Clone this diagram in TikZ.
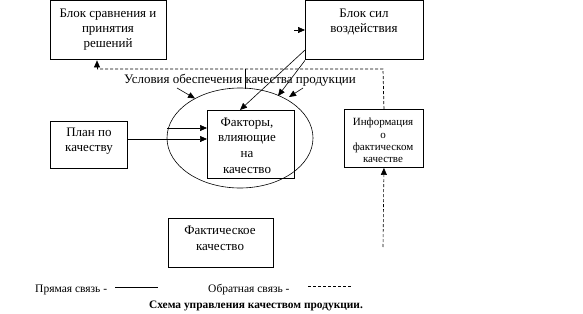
\documentclass[tikz,border=0pt]{standalone}
\usepackage{fontspec}
\setmainfont{Liberation Serif}
\usetikzlibrary{arrows.meta,shapes.geometric}
\begin{document}
\begin{tikzpicture}[x=1pt,y=-1pt,
  box/.style={draw, line width=0.9pt, inner sep=0pt, anchor=north west},
  txt/.style={align=center, inner sep=0pt, font=\rmfamily\fontsize{13}{15}\selectfont},
  small/.style={align=center, inner sep=0pt, font=\rmfamily\fontsize{11}{12.3}\selectfont},
  leg/.style={inner sep=0pt, font=\rmfamily\fontsize{11.5}{13}\selectfont},
  arr/.style={line width=0.6pt, -{Triangle[length=7pt,width=6pt]}},
  fb/.style={line width=0.7pt, dash pattern=on 3pt off 2pt}]
\useasboundingbox (0,0) rectangle (583,313);
% boxes
\node[box, minimum width=116pt, minimum height=59pt] (cmp) at (50,0.5) {};
\node[box, minimum width=118pt, minimum height=59pt] (sil) at (305,0.5) {};
\node[box, minimum width=77pt, minimum height=47pt] (plan) at (50,121) {};
\node[box, minimum width=87pt, minimum height=68pt] (fac) at (207,110) {};
\node[box, minimum width=79pt, minimum height=58pt] (info) at (344,109) {};
\node[box, minimum width=105pt, minimum height=49pt] (fact) at (168,218) {};
\node[draw, line width=0.6pt, ellipse, minimum width=146pt, minimum height=100pt, inner sep=0pt] (ell) at (240,138) {};
% texts
\node[txt, anchor=north] (cmpT) at (108,8.5) {Блок сравнения и\\принятия\\решений};
\node[txt, anchor=north] (silT) at (364,8.5) {Блок сил\\воздействия};
\node[txt, anchor=north] (planT) at (89,127.5) {План по\\качеству};
\node[txt, anchor=north, font=\rmfamily\fontsize{13}{15.6}\selectfont] (facT) at (247,117.5) {Факторы,\\влияющие\\на\\качество};
\node[small, anchor=north] (infoT) at (383,118) {Информация\\о\\фактическом\\качестве};
\node[txt, anchor=north, font=\rmfamily\fontsize{13}{16.7}\selectfont] (factT) at (220,225.5) {Фактическое\\качество};
\node[txt] (cond) at (240,80) {Условия обеспечения качества продукции};
% feedback (dashed)
\coordinate (fbL) at (97,69);
\coordinate (fbR) at (383,69);
\coordinate (fbS) at (383,247);
\draw[fb] (info.north) -- (fbR) -- (fbL);
\draw[fb, arr] (fbL) -- (fbL |- cmp.south);
\draw[fb, arr] (fbS) -- (info.south);
% vertical solid line
\coordinate (vt) at (245,69);
\coordinate (vb) at (245,88.5);
\draw[line width=0.6pt] (vt) -- (vb);
% arrows from plan
\coordinate (p1) at (167,128);
\coordinate (p1e) at (207,128);
\draw[arr] (p1) -- (p1e);
\draw[arr] (plan.east |- 0,139) -- (fac.west |- 0,139);
% arrows into ellipse / factors
\coordinate (a1s) at (177,88);
\coordinate (a1e) at (195,98.5);
\draw[arr] (a1s) -- (a1e);
\coordinate (s1) at (305,50);
\coordinate (f1) at (240,110);
\draw[arr] (s1) -- (f1);
\coordinate (e2) at (278,96);
\draw[arr] (sil.south west) -- (e2);
\coordinate (a3s) at (303,88);
\coordinate (a3e) at (289,97);
\draw[arr] (a3s) -- (a3e);
% stray arrow head at block of forces
\coordinate (st) at (294,30);
\draw[arr] (st) -- (st -| sil.west);
% legend
\node[leg, anchor=west] (lg1) at (35,290) {Прямая связь -};
\coordinate (l1a) at (115,287);
\coordinate (l1b) at (158,287);
\draw[line width=0.7pt] (l1a) -- (l1b);
\node[leg, anchor=west] (lg2) at (208,290) {Обратная связь -};
\coordinate (l2a) at (308,286);
\coordinate (l2b) at (352,286);
\draw[fb] (l2a) -- (l2b);
\node[inner sep=0pt, font=\rmfamily\bfseries\fontsize{11.4}{13}\selectfont] (title) at (256,306) {Схема управления качеством продукции.};
\end{tikzpicture}
\end{document}
